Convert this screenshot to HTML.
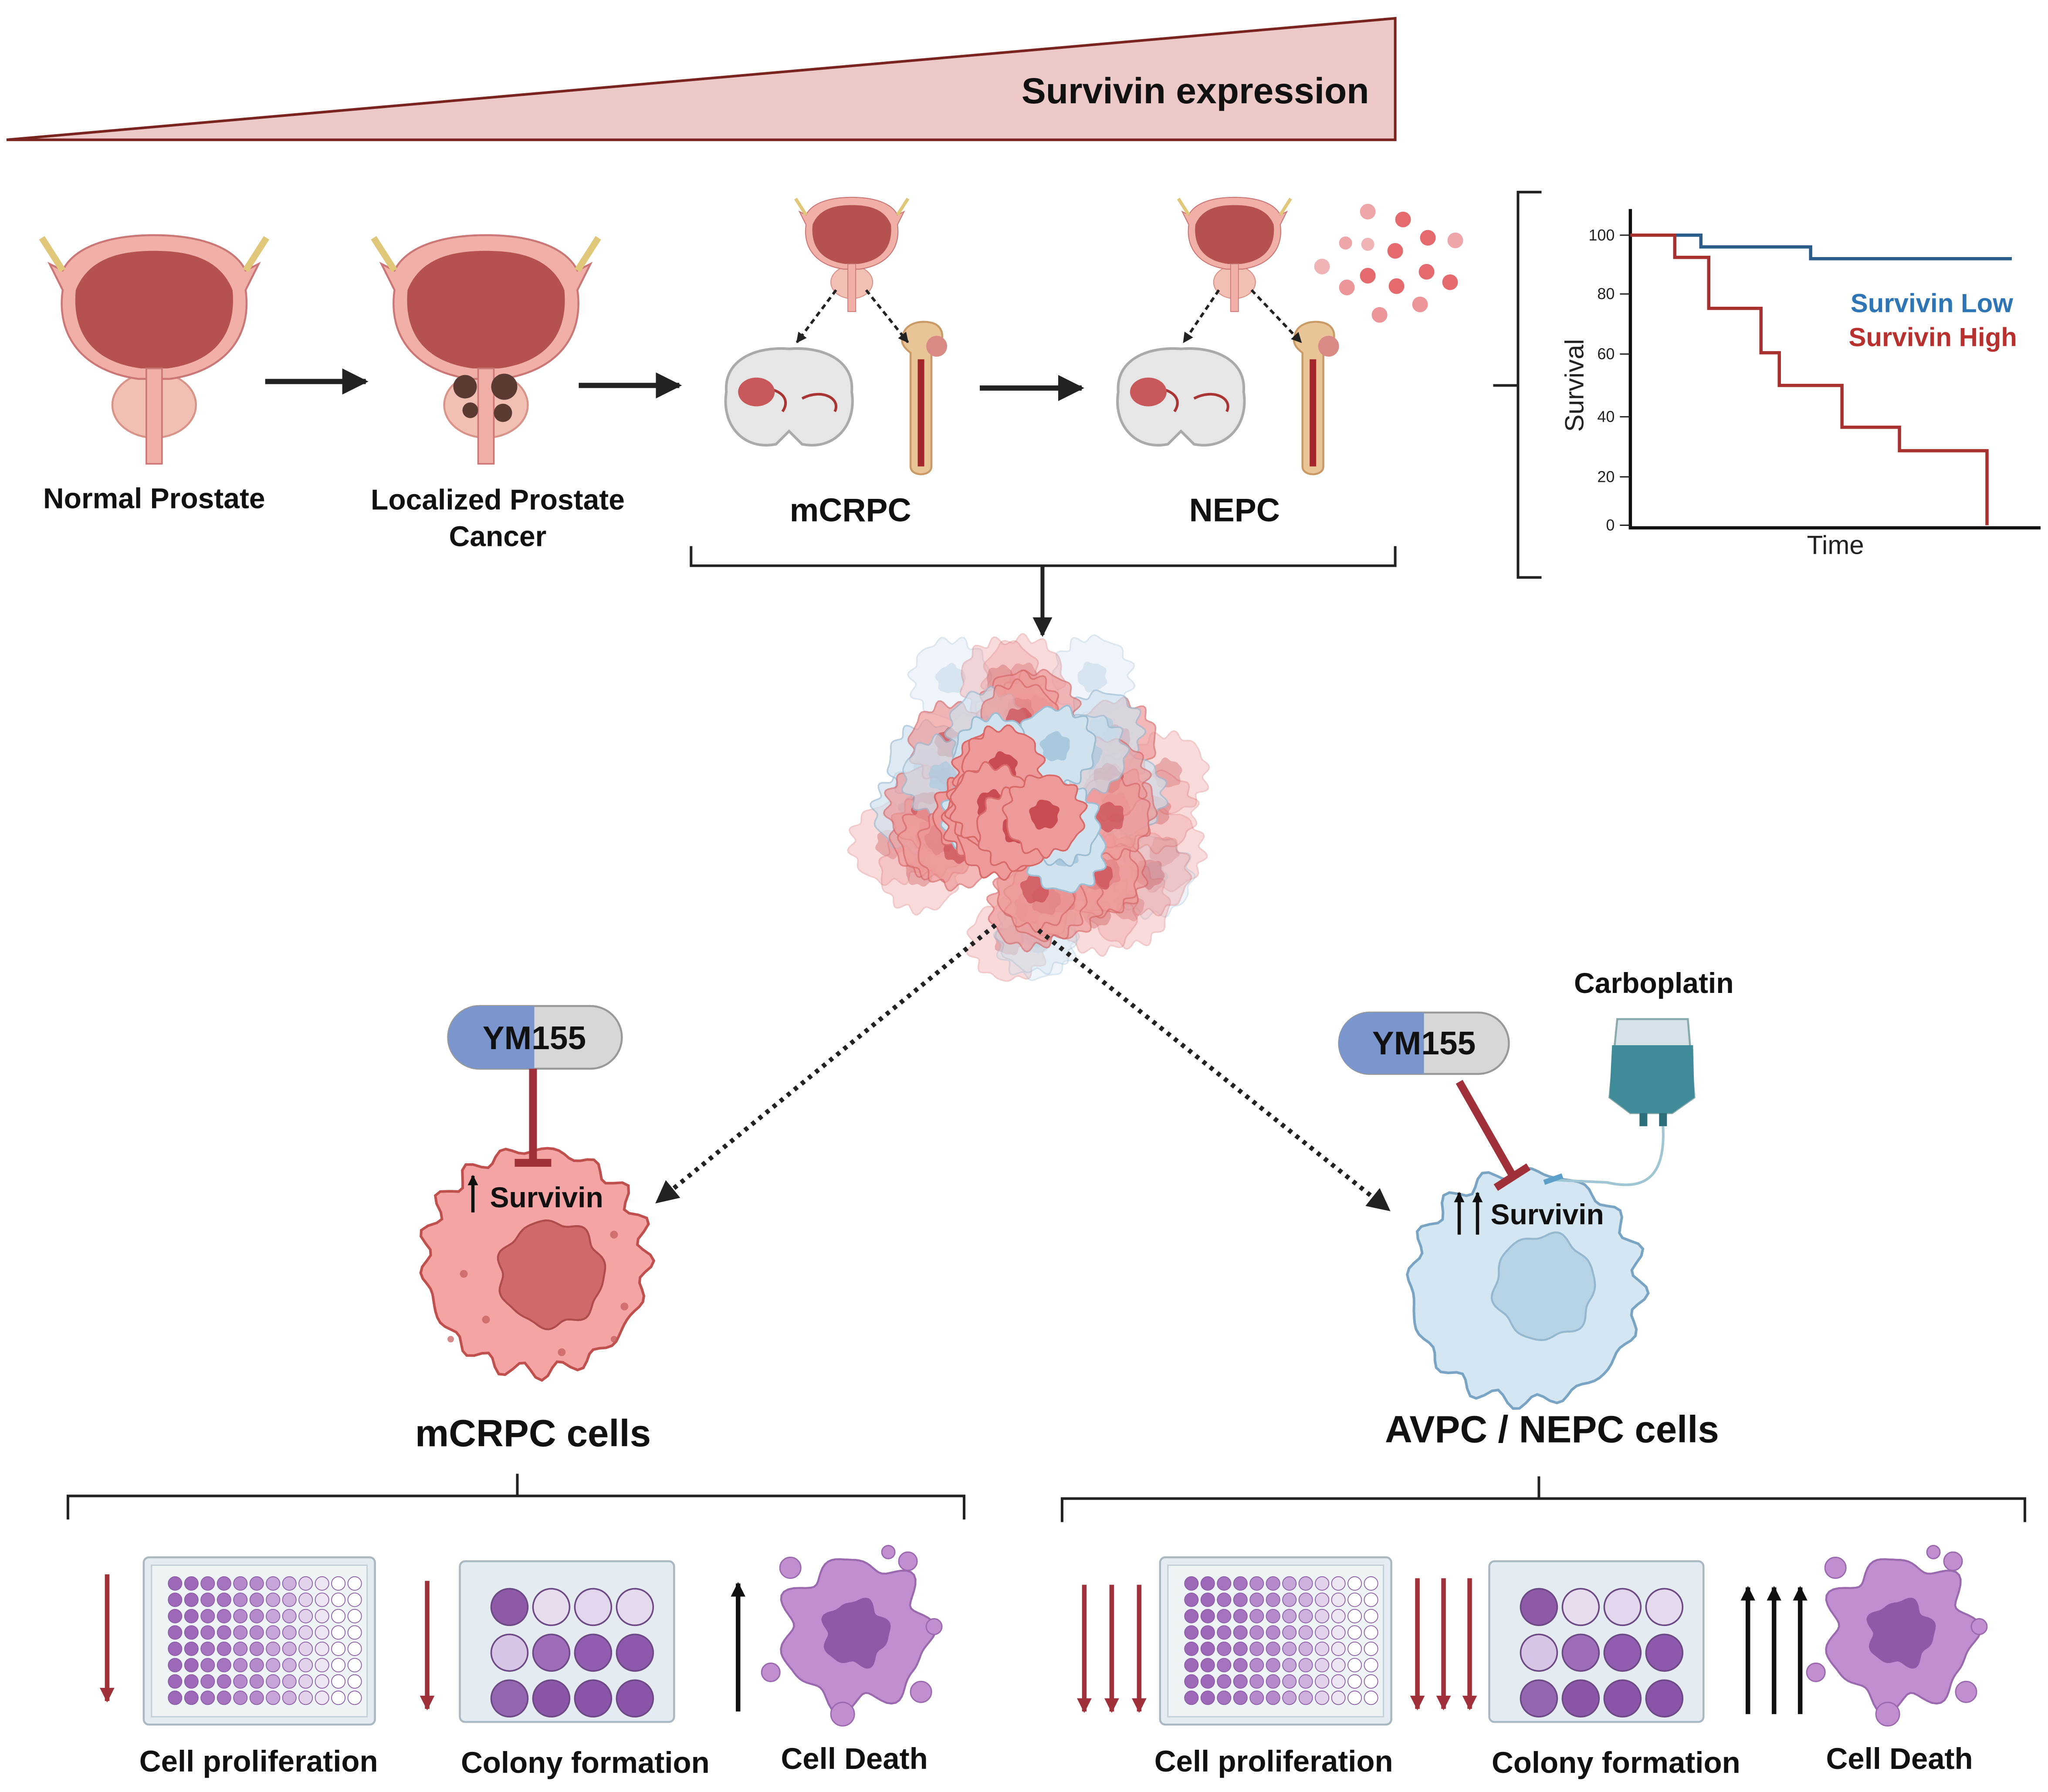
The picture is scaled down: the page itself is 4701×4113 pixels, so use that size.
<!DOCTYPE html>
<html><head><meta charset="utf-8"><style>
html,body{margin:0;padding:0;background:#fff}
svg{display:block}
text{font-family:"Liberation Sans",sans-serif}
.b{font-weight:bold;fill:#111}
</style></head><body>
<svg id="s" width="4701" height="4113" viewBox="0 0 1567.7 1371.6" xmlns="http://www.w3.org/2000/svg">
<defs>
<marker id="ah" viewBox="0 0 10 10" refX="9" refY="5" markerWidth="4" markerHeight="4" orient="auto"><path d="M0,0L10,5L0,10z" fill="#222"/></marker>
<marker id="ahs" viewBox="0 0 10 10" refX="9" refY="5" markerWidth="5" markerHeight="5" orient="auto"><path d="M0,0L10,5L0,10z" fill="#222"/></marker>
<marker id="ar" viewBox="0 0 10 10" refX="9" refY="5" markerWidth="3.2" markerHeight="3.2" orient="auto"><path d="M0,0L10,5L0,10z" fill="#a0303a"/></marker>
<marker id="ak" viewBox="0 0 10 10" refX="9" refY="5" markerWidth="3.2" markerHeight="3.2" orient="auto"><path d="M0,0L10,5L0,10z" fill="#111"/></marker>
<g id="bladder">
<ellipse cx="0" cy="68" rx="32" ry="25" fill="#f2bfb5" stroke="#d89488" stroke-width="1.5"/>
<path d="M-12,48 C-55,42 -75,15 -70,-20 L-80,-40 L-70,-35 C-60,-55 -30,-62 0,-62 C30,-62 60,-55 70,-35 L80,-40 L70,-20 C75,15 55,42 12,48 Z" fill="#f0b0a8" stroke="#c77" stroke-width="1.5"/>
<path d="M-10,40 C-48,35 -63,12 -60,-20 C-50,-45 -25,-50 0,-50 C25,-50 50,-45 60,-20 C63,12 48,35 10,40 Z" fill="#b5524f"/>
<path d="M-70,-35 L-86,-60 M70,-35 L86,-60" stroke="#e0c77a" stroke-width="5" fill="none"/>
<rect x="-6" y="40" width="12" height="73" fill="#f0b0a8" stroke="#c77" stroke-width="1.2"/>
</g>
<g id="brain">
<path d="M-48,-5 C-50,-30 -25,-40 0,-38 C25,-40 50,-30 48,-5 C52,20 35,40 10,35 L0,25 L-10,35 C-35,40 -52,20 -48,-5Z" fill="#e6e6e6" stroke="#aaa" stroke-width="2"/>
<path d="M-30,-5 C-20,-12 5,-5 -5,10 M10,0 C25,-8 40,0 35,10" stroke="#a33" stroke-width="2" fill="none"/>
<ellipse cx="-25" cy="-5" rx="14" ry="11" fill="#c9585a"/>
</g>
<g id="bone">
<path d="M-8,-35 L-8,52 C-8,60 8,60 8,52 L8,-35 C18,-40 20,-55 8,-58 C0,-60 -12,-58 -14,-48 C-16,-42 -12,-38 -8,-35Z" fill="#e9c497" stroke="#c99a66" stroke-width="1.5"/>
<rect x="-2.5" y="-30" width="5" height="82" fill="#a3262a"/>
<circle cx="12" cy="-40" r="8" fill="#d98a85"/>
</g>
</defs>
<polygon points="5,107 1068,14 1068,107" fill="#ecc9c7" stroke="#7a2420" stroke-width="2"/>
<text x="1048" y="79" text-anchor="end" class="b" font-size="28">Survivin expression</text>

<use href="#bladder" transform="translate(118,242)"/>
<use href="#bladder" transform="translate(372,242)"/>
<circle cx="356" cy="296" r="9" fill="#5a3a32"/><circle cx="386" cy="296" r="10" fill="#5a3a32"/><circle cx="360" cy="314" r="6" fill="#5a3a32"/><circle cx="385" cy="316" r="7" fill="#5a3a32"/>
<use href="#bladder" transform="translate(652,182) scale(0.5)"/>
<use href="#bladder" transform="translate(945,182) scale(0.5)"/>
<use href="#brain" transform="translate(604,305)"/><use href="#bone" transform="translate(705,305)"/>
<use href="#brain" transform="translate(904,305)"/><use href="#bone" transform="translate(1005,305)"/>
<g stroke="#222" stroke-width="2" stroke-dasharray="4,3" fill="none" marker-end="url(#ah)">
<path d="M640,222L610,262"/><path d="M663,222L695,262"/><path d="M933,222L906,262"/><path d="M958,222L996,262"/></g>
<g fill="#e46a6e"><circle cx="1047" cy="162" r="6" opacity=".6"/><circle cx="1074" cy="168" r="6"/><circle cx="1030" cy="186" r="5" opacity=".6"/><circle cx="1047" cy="187" r="5" opacity=".5"/><circle cx="1068" cy="192" r="6"/><circle cx="1093" cy="182" r="6"/><circle cx="1114" cy="184" r="6" opacity=".6"/><circle cx="1012" cy="204" r="6" opacity=".5"/><circle cx="1047" cy="211" r="6"/><circle cx="1092" cy="208" r="6"/><circle cx="1031" cy="220" r="6" opacity=".7"/><circle cx="1069" cy="219" r="6"/><circle cx="1110" cy="216" r="6"/><circle cx="1056" cy="241" r="6" opacity=".7"/><circle cx="1087" cy="233" r="6" opacity=".7"/></g>
<g stroke="#222" stroke-width="4" marker-end="url(#ahs)"><path d="M203,292H280"/><path d="M443,295H520"/><path d="M750,297H828"/></g>
<text x="118" y="389" text-anchor="middle" class="b" font-size="22">Normal Prostate</text>
<text x="381" y="390" text-anchor="middle" class="b" font-size="22">Localized Prostate</text>
<text x="381" y="418" text-anchor="middle" class="b" font-size="22">Cancer</text>
<text x="651" y="399" text-anchor="middle" class="b" font-size="25">mCRPC</text>
<text x="945" y="399" text-anchor="middle" class="b" font-size="25">NEPC</text>
<path d="M529,418V433H1068V418" stroke="#222" stroke-width="2" fill="none"/>
<path d="M798,433V486" stroke="#222" stroke-width="3" marker-end="url(#ahs)"/>

<path d="M1180,147H1162V442H1180M1143,295H1162" stroke="#222" stroke-width="2" fill="none"/>
<path d="M1248,160V404H1562" stroke="#111" stroke-width="2.5" fill="none"/>
<g font-size="12" text-anchor="end" fill="#222"><text x="1236" y="184">100</text><text x="1236" y="229">80</text><text x="1236" y="275">60</text><text x="1236" y="323">40</text><text x="1236" y="369">20</text><text x="1236" y="406">0</text></g>
<g stroke="#222" stroke-width="1"><path d="M1240,180H1248M1240,225H1248M1240,271H1248M1240,319H1248M1240,365H1248M1240,402H1248"/></g>
<path d="M1248,180H1302V189H1386V198H1540" stroke="#2b5d8c" stroke-width="2.5" fill="none"/>
<path d="M1248,180H1282V197H1308V236H1348V270H1362V295H1410V327H1454V345H1521V402" stroke="#a8302f" stroke-width="2.5" fill="none"/>
<text x="1541" y="239" text-anchor="end" font-weight="bold" font-size="20" fill="#2e75b6">Survivin Low</text>
<text x="1544" y="265" text-anchor="end" font-weight="bold" font-size="20" fill="#b8312f">Survivin High</text>
<text transform="translate(1212,295) rotate(-90)" text-anchor="middle" font-size="20" fill="#222">Survival</text>
<text x="1405" y="424" text-anchor="middle" font-size="20" fill="#222">Time</text>

<g id="tumor"></g>

<g stroke="#222" stroke-width="3.5" stroke-dasharray="3,4" fill="none" marker-end="url(#ahs)"><path d="M762,708L503,920"/><path d="M795,712L1063,926"/></g>

<path id="cellL" fill="#f4a4a4" stroke="#c0504d" stroke-width="2"/>
<path id="nucL" fill="#d06a6a" stroke="#b04c4c" stroke-width="1.5"/>
<path id="cellR" fill="#d3e6f1" stroke="#7aa4c4" stroke-width="2"/>
<path id="nucR" fill="#b7d4e6" stroke="#94b8d0" stroke-width="1.5"/>
<g fill="#c35a5a" opacity=".7"><circle cx="355" cy="975" r="3"/><circle cx="372" cy="1010" r="3"/><circle cx="470" cy="945" r="3"/><circle cx="478" cy="1000" r="3"/><circle cx="430" cy="1035" r="3"/><circle cx="345" cy="1025" r="2.5"/><circle cx="470" cy="1025" r="2.5"/></g>

<rect x="343" y="770" width="133" height="48" rx="24" fill="#d7d7d7" stroke="#999" stroke-width="1.5"/>
<path d="M367,770H409V818H367A24,24 0 0 1 367,770Z" fill="#7b96cc"/>
<text x="409" y="803" text-anchor="middle" class="b" font-size="25">YM155</text>
<path d="M408,818V888M394,890H422" stroke="#a0303a" stroke-width="6"/>
<path d="M362,928V900" stroke="#111" stroke-width="2.5" marker-end="url(#ak)"/>
<text x="375" y="924" class="b" font-size="22">Survivin</text>
<text x="408" y="1107" text-anchor="middle" class="b" font-size="29">mCRPC cells</text>

<rect x="1025" y="775" width="130" height="47" rx="23.5" fill="#d7d7d7" stroke="#999" stroke-width="1.5"/>
<path d="M1048,775H1090V822H1048A23.5,23.5 0 0 1 1048,775Z" fill="#7b96cc"/>
<text x="1090" y="807" text-anchor="middle" class="b" font-size="25">YM155</text>
<path d="M1117,828L1158,900M1145,909L1170,893" stroke="#a0303a" stroke-width="6"/>
<text x="1266" y="760" text-anchor="middle" class="b" font-size="22">Carboplatin</text>
<path d="M1238,780H1292L1297,840L1280,852H1248L1232,840Z" fill="#d5e3e8" stroke="#8aa" stroke-width="1.5"/>
<path d="M1234,800H1296L1297,840L1280,852H1248L1232,840Z" fill="#3f8b9a"/>
<rect x="1255" y="852" width="6" height="10" fill="#2d6e7c"/><rect x="1270" y="852" width="6" height="10" fill="#2d6e7c"/>
<path d="M1273,862C1275,900 1260,912 1230,905L1185,903" stroke="#9fc6d2" stroke-width="2" fill="none"/>
<path d="M1182,905l14,-5" stroke="#5aa0c8" stroke-width="4"/>
<path d="M1117,945V913" stroke="#111" stroke-width="2.5" marker-end="url(#ak)"/>
<path d="M1131,945V913" stroke="#111" stroke-width="2.5" marker-end="url(#ak)"/>
<text x="1141" y="937" class="b" font-size="22">Survivin</text>
<text x="1188" y="1104" text-anchor="middle" class="b" font-size="29">AVPC / NEPC cells</text>

<path d="M52,1163V1145H738V1163M396,1145V1128" stroke="#222" stroke-width="2" fill="none"/>
<path d="M813,1165V1147H1550V1165M1178,1147V1130" stroke="#222" stroke-width="2" fill="none"/>

<g id="bottom"></g>
<g stroke-width="3.5">
<path d="M82,1205V1302" stroke="#a0303a" marker-end="url(#ar)"/>
<path d="M327,1210V1308" stroke="#a0303a" marker-end="url(#ar)"/>
<path d="M565,1310V1212" stroke="#111" marker-end="url(#ak)"/>
<path d="M830,1213V1310" stroke="#a0303a" marker-end="url(#ar)"/>
<path d="M851,1213V1310" stroke="#a0303a" marker-end="url(#ar)"/>
<path d="M872,1213V1310" stroke="#a0303a" marker-end="url(#ar)"/>
<path d="M1085,1208V1308" stroke="#a0303a" marker-end="url(#ar)"/>
<path d="M1105,1208V1308" stroke="#a0303a" marker-end="url(#ar)"/>
<path d="M1125,1208V1308" stroke="#a0303a" marker-end="url(#ar)"/>
<path d="M1338,1312V1215" stroke="#111" marker-end="url(#ak)"/>
<path d="M1358,1312V1215" stroke="#111" marker-end="url(#ak)"/>
<path d="M1378,1312V1215" stroke="#111" marker-end="url(#ak)"/>
</g>
<g class="b" font-size="23" text-anchor="middle">
<text x="198" y="1356">Cell proliferation</text><text x="448" y="1357">Colony formation</text><text x="654" y="1354">Cell Death</text>
<text x="975" y="1356">Cell proliferation</text><text x="1237" y="1357">Colony formation</text><text x="1454" y="1354">Cell Death</text></g>
</svg>
<script>
const NS="http://www.w3.org/2000/svg";
function el(p,t,a){const e=document.createElementNS(NS,t);for(const k in a)e.setAttribute(k,a[k]);p.appendChild(e);return e;}
function blob(cx,cy,r,amp,n,seed,ry){let d="";const N=120;for(let i=0;i<=N;i++){const a=i/N*Math.PI*2;const rr=r*(1+amp*Math.sin(n*a+seed)+amp*0.6*Math.sin((n+3)*a+seed*2.3));const x=cx+rr*Math.cos(a),y=cy+rr*(ry||1)*Math.sin(a);d+=(i?"L":"M")+x.toFixed(1)+","+y.toFixed(1);}return d+"Z";}
document.getElementById("cellL").setAttribute("d",blob(410,965,85,0.05,17,1));
document.getElementById("nucL").setAttribute("d",blob(422,975,40,0.05,7,2));
document.getElementById("cellR").setAttribute("d",blob(1168,985,88,0.045,16,0.5));
document.getElementById("nucR").setAttribute("d",blob(1182,985,38,0.05,6,3,1.05));
const tg=document.getElementById("tumor");
let s=7;function rnd(){s=(s*9301+49297)%233280;return s/233280;}
const cells=[];
for(let i=0;i<55;i++){const a=rnd()*Math.PI*2,r=Math.sqrt(rnd())*115;cells.push([785+r*Math.cos(a),615+r*Math.sin(a)*1.05,rnd()]);}
cells.sort((a,b)=>Math.hypot(b[0]-785,b[1]-615)-Math.hypot(a[0]-785,a[1]-615));
cells.forEach((c,i)=>{const dist=Math.hypot(c[0]-785,c[1]-615);const blue=c[2]<0.25;const op=dist>90?0.35:(dist>60?0.7:1);
const fill=blue?"#cfe2ee":"#ee9a9a";const st=blue?"#9dbdd3":"#d86a6a";
el(tg,"path",{d:blob(c[0],c[1],30,0.07,11,i),fill:fill,stroke:st,"stroke-width":1.2,opacity:op});
el(tg,"path",{d:blob(c[0],c[1],11,0.08,5,i),fill:blue?"#a9c9de":"#c94c52",opacity:op});});
const bg=document.getElementById("bottom");
function plate96(x,y){el(bg,"rect",{x:x,y:y,width:177,height:128,rx:4,fill:"#e4ecf1",stroke:"#aab8c2","stroke-width":1.5});
el(bg,"rect",{x:x+6,y:y+6,width:165,height:116,fill:"#eef3f6",stroke:"#c3ced6"});
const cols=["#9d68b8","#9d68b8","#a673bf","#a673bf","#b48acb","#b48acb","#c6a5d8","#cdb1dc","#e2d2ea","#eee5f3","#fff","#fff"];
for(let c=0;c<12;c++)for(let r=0;r<8;r++)el(bg,"circle",{cx:x+24+c*12.5,cy:y+20+r*12.5,r:5.2,fill:cols[c],stroke:"#8a5aa6","stroke-width":0.6});}
function plate12(x,y){el(bg,"rect",{x:x,y:y,width:164,height:123,rx:4,fill:"#e4ecf1",stroke:"#aab8c2","stroke-width":1.5});
const f=[["#8e5aa8","#e8dcef","#e2d6ec","#e6dbee"],["#d8c4e4","#9f6cba","#925db0","#8e58ad"],["#9566b0","#8b56a8","#8a55a8","#8a55a8"]];
for(let r=0;r<3;r++)for(let c=0;c<4;c++){el(bg,"circle",{cx:x+38+c*32,cy:y+35+r*35,r:14,fill:f[r][c],stroke:"#6d4a86","stroke-width":1.2});}}
function death(cx,cy){el(bg,"path",{d:blob(cx,cy,55,0.1,7,1.3),fill:"#c18fd0",stroke:"#9b6aae","stroke-width":1.5});
el(bg,"path",{d:blob(cx,cy,25,0.1,5,2),fill:"#8e5aa8"});
[[-50,-50,8],[40,-55,7],[60,-5,6],[-65,30,7],[50,45,8],[-10,62,9],[25,-62,5]].forEach(p=>el(bg,"circle",{cx:cx+p[0],cy:cy+p[1],r:p[2],fill:"#c18fd0",stroke:"#9b6aae"}));}
plate96(110,1192);plate12(352,1195);death(655,1250);
plate96(888,1192);plate12(1140,1195);death(1455,1250);
</script>
</body></html>
